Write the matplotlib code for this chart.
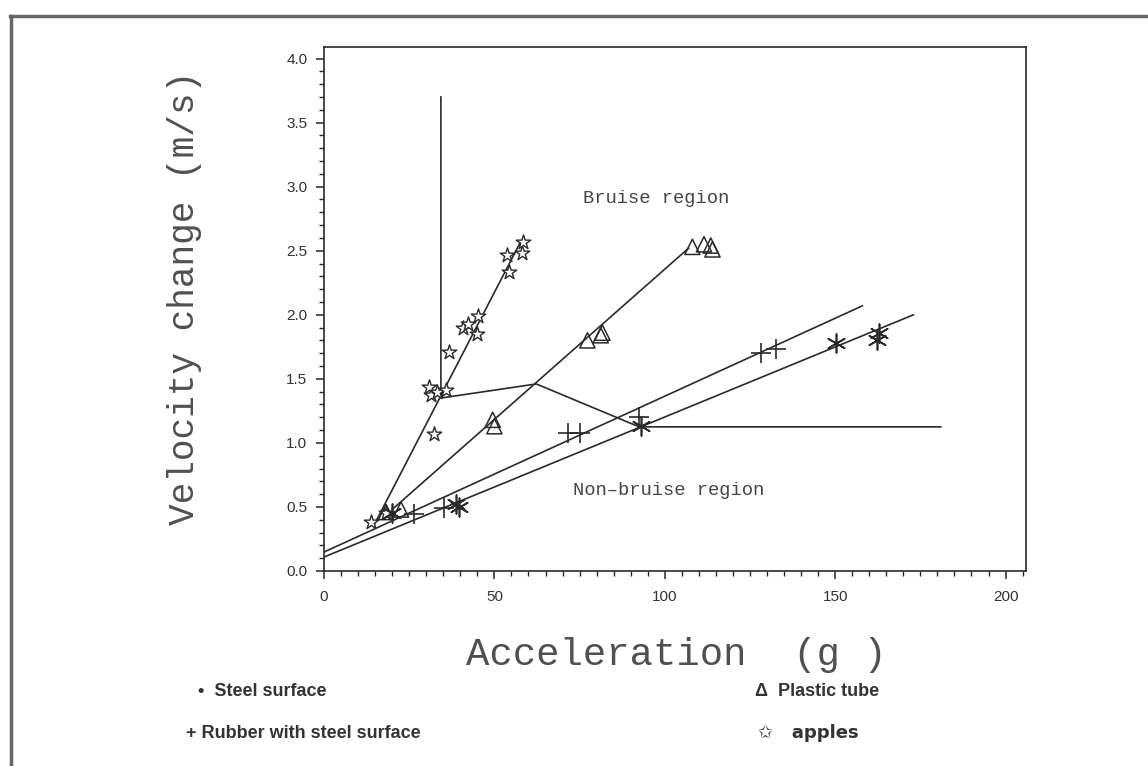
import matplotlib
matplotlib.use("Agg")
import matplotlib.pyplot as plt
from matplotlib.lines import Line2D
from matplotlib.ticker import MultipleLocator

# ---- data ----
apples_x = [13.8, 18.2, 31.4, 30.9, 33.3, 35.8, 32.4, 36.8, 40.7, 42.3, 44.9, 45.1, 53.7, 54.3, 58.0, 58.3]
apples_y = [0.38, 0.45, 1.375, 1.44, 1.40, 1.41, 1.07, 1.71, 1.90, 1.93, 1.85, 1.99, 2.47, 2.33, 2.48, 2.57]

plastic_x = [18.2, 22.6, 49.5, 50.0, 77.3, 81.2, 81.7, 108.1, 111.5, 113.5, 114.0]
plastic_y = [0.46, 0.48, 1.18, 1.13, 1.80, 1.84, 1.86, 2.53, 2.55, 2.54, 2.51]

rubber_x = [26.5, 35.3, 71.5, 75.2, 92.5, 128.2, 132.6]
rubber_y = [0.445, 0.49, 1.08, 1.08, 1.20, 1.70, 1.73]

steel_x = [20.1, 38.7, 39.7, 93.0, 150.1, 162.2, 162.8]
steel_y = [0.45, 0.52, 0.50, 1.13, 1.78, 1.80, 1.86]

# fitted lines (end points)
apples_fit_x = [14.5, 57.5]
apples_fit_y = [0.35, 2.56]
plastic_fit_x = [20.0, 107.0]
plastic_fit_y = [0.48, 2.52]
rubber_fit_x = [0.0, 158.0]
rubber_fit_y = [0.148, 2.07]
steel_fit_x = [0.0, 173.0]
steel_fit_y = [0.109, 2.00]

# bruise threshold boundary
bound_x = [34.3, 34.3, 62.3, 92.5, 181.0]
bound_y = [3.70, 1.35, 1.46, 1.125, 1.125]

xticks = [0, 50, 100, 150, 200]
yticks = [0.0, 0.5, 1.0, 1.5, 2.0, 2.5, 3.0, 3.5, 4.0]

# ---- figure ----
W, H = 1148, 766
fig = plt.figure(figsize=(W / 100, H / 100), dpi=100)
fig.patch.set_facecolor("white")

def fx(px):
    return px / W

def fy(py):
    return 1 - py / H

ax = fig.add_axes([fx(324), fy(571), fx(1026) - fx(324), fy(47) - fy(571)])
ax.set_xlim(0, 206)
ax.set_ylim(0, 4.09)

ink = "#2a2a2a"
lw = 1.2

for xs, ys in [(apples_fit_x, apples_fit_y), (plastic_fit_x, plastic_fit_y),
               (rubber_fit_x, rubber_fit_y), (steel_fit_x, steel_fit_y),
               (bound_x, bound_y)]:
    ax.plot(xs, ys, color=ink, lw=lw, zorder=2)

ax.scatter(apples_x, apples_y, marker="*", s=120, facecolors="white",
           edgecolors=ink, linewidths=1.0, zorder=3)
ax.scatter(plastic_x, plastic_y, marker="^", s=120, facecolors="none",
           edgecolors=ink, linewidths=1.1, zorder=3)
ax.scatter(rubber_x, rubber_y, marker="+", s=200, color=ink, linewidths=1.2, zorder=3)
ax.scatter(steel_x, steel_y, marker=(6, 2, 0), s=180, color=ink, linewidths=1.2, zorder=3)

for sp in ax.spines.values():
    sp.set_color(ink)
    sp.set_linewidth(1.2)

ax.set_xticks(xticks)
ax.set_yticks(yticks)
ax.set_xticklabels([str(v) for v in xticks])
ax.set_yticklabels([f"{v:.1f}" for v in yticks])
ax.xaxis.set_minor_locator(MultipleLocator(5))
ax.yaxis.set_minor_locator(MultipleLocator(0.1))
ax.tick_params(which="major", direction="out", length=6, width=1.1, color=ink,
               labelsize=11, labelcolor="#333333", pad=6)
ax.tick_params(which="minor", direction="out", length=3.5, width=1.0, color=ink)
ax.tick_params(axis="x", which="major", pad=8)
for lab in ax.get_xticklabels() + ax.get_yticklabels():
    lab.set_family("Liberation Sans")

mono = "Liberation Mono"
ax.text(97.4, 2.91, "Bruise region", family=mono, fontsize=13.5, color="#444444",
        ha="center", va="center")
ax.text(101.2, 0.63, "Non\u2013bruise region", family=mono, fontsize=13.5, color="#444444",
        ha="center", va="center")

fig.text(fx(185), fy(298), "Velocity change (m/s)", family=mono, fontsize=26,
         color="#505050", rotation=90, ha="center", va="center")
fig.text(fx(676), fy(655), "Acceleration  (g )", family=mono, fontsize=28,
         color="#505050", ha="center", va="center")

leg_font = dict(family="Liberation Sans", fontsize=13, color="#333333",
                va="center", ha="left", fontweight="bold")
fig.text(fx(198), fy(692), "\u2022  Steel surface", **leg_font)
fig.text(fx(186), fy(733), "+ Rubber with steel surface", **leg_font)
fig.text(fx(755), fy(692), "\u0394  Plastic tube", **leg_font)
fig.text(fx(758), fy(733), "\u2729   apples", **{**leg_font, "family": ["DejaVu Sans"]})

# outer frame (top and left)
fig.add_artist(Line2D([fx(10), fx(1148)], [fy(16), fy(16)], color="#666666", lw=2.5,
                      transform=fig.transFigure))
fig.add_artist(Line2D([fx(11), fx(11)], [fy(16), fy(766)], color="#666666", lw=2.5,
                      transform=fig.transFigure))

fig.savefig("out.png", dpi=100)
